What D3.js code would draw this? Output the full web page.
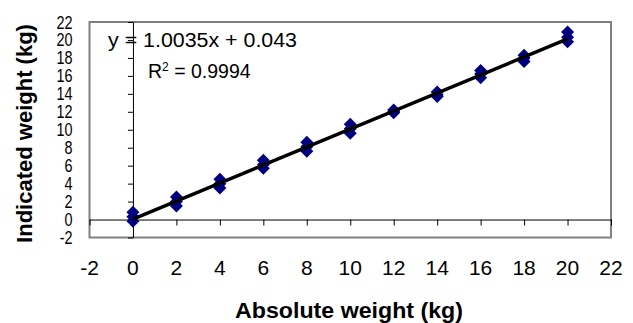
<!DOCTYPE html>
<html>
<head>
<meta charset="utf-8">
<script src="https://cdn.jsdelivr.net/npm/d3@7"></script>
<style>
  body { margin: 0; background: #fff; }
  text { font-family: Arial, "Liberation Sans", sans-serif; }
</style>
</head>
<body>
<div id="chart"></div>
<script>
// readings: absolute weight vs indicated weight (three readings per load)
const absolute = [0, 0, 0, 2, 2, 2, 4, 4, 4, 6, 6, 6, 8, 8, 8, 10, 10, 10,
                  12, 12, 12, 14, 14, 14, 16, 16, 16, 18, 18, 18, 20, 20, 20];
const indicated = [-0.2, 0.3, 0.8, 1.5, 2.0, 2.5, 3.5, 4.0, 4.5, 5.7, 6.1, 6.6,
                   7.6, 8.1, 8.6, 9.6, 10.1, 10.6, 11.9, 12.0, 12.2, 13.7, 13.9, 14.2,
                   15.8, 16.2, 16.6, 17.6, 18.0, 18.3, 19.8, 20.3, 20.9];
const tickValues = [-2, 0, 2, 4, 6, 8, 10, 12, 14, 16, 18, 20, 22];
const slope = 1.0035, intercept = 0.043;
const fitRange = [0, 20];

const W = 633, H = 323;
const plot = {left: 89.5, right: 611, top: 22, bottom: 237.5};

const x = d3.scaleLinear().domain([-2, 22]).range([plot.left, plot.right]);
const y = d3.scaleLinear().domain([-2, 22]).range([plot.bottom, plot.top]);

const svg = d3.select("#chart").append("svg")
    .attr("width", W)
    .attr("height", H);

// plot frame
svg.append("rect")
    .attr("x", plot.left)
    .attr("y", plot.top)
    .attr("width", plot.right - plot.left)
    .attr("height", plot.bottom - plot.top)
    .attr("fill", "#fff")
    .attr("stroke", "#808080")
    .attr("stroke-width", 2);

// x axis through y=0, ticks only
const xAxis = svg.append("g")
    .attr("transform", "translate(0," + y(0) + ")")
    .call(d3.axisBottom(x).tickValues(tickValues).tickSize(6).tickSizeOuter(0).tickFormat(""));

// y axis through x=0, ticks only
const yAxis = svg.append("g")
    .attr("transform", "translate(" + x(0) + ",0)")
    .call(d3.axisLeft(y).tickValues(tickValues).tickSize(5).tickSizeOuter(0).tickFormat(""));

// x tick labels, low position
svg.append("g").selectAll("text")
    .data(tickValues)
    .enter().append("text")
    .attr("x", d => x(d))
    .attr("y", 274.5)
    .attr("text-anchor", "middle")
    .attr("font-size", 21)
    .text(d => d);

// y tick labels, low position (narrow look of the original)
svg.append("g").selectAll("text")
    .data(tickValues)
    .enter().append("text")
    .attr("transform", d => "translate(72.5," + (y(d) + 6.5) + ") scale(0.8,1)")
    .attr("text-anchor", "end")
    .attr("font-size", 18)
    .text(d => d);

// markers
const diamond = "M0,-6.5L6.5,0L0,6.5L-6.5,0Z";
svg.append("g").selectAll("path")
    .data(absolute.map((a, i) => [a, indicated[i]]))
    .enter().append("path")
    .attr("d", diamond)
    .attr("transform", d => "translate(" + x(d[0]) + "," + y(d[1]) + ")")
    .attr("fill", "#000080");

// trend line
svg.append("line")
    .attr("x1", x(fitRange[0]))
    .attr("y1", y(slope * fitRange[0] + intercept))
    .attr("x2", x(fitRange[1]))
    .attr("y2", y(slope * fitRange[1] + intercept))
    .attr("stroke", "#000")
    .attr("stroke-width", 3.5);

// equation labels
svg.append("text")
    .attr("x", 108)
    .attr("y", 47)
    .attr("font-size", 19.5)
    .attr("textLength", 189)
    .attr("lengthAdjust", "spacingAndGlyphs")
    .text("y = 1.0035x + 0.043");

const r2 = svg.append("text")
    .attr("x", 148)
    .attr("y", 78)
    .attr("font-size", 19.5);
r2.append("tspan").text("R");
r2.append("tspan").attr("font-size", 12).attr("dy", -7).text("2");
r2.append("tspan").attr("dy", 7).text(" = 0.9994");

// axis titles
svg.append("text")
    .attr("x", 349)
    .attr("y", 318)
    .attr("text-anchor", "middle")
    .attr("font-size", 22)
    .attr("font-weight", "bold")
    .attr("textLength", 228)
    .attr("lengthAdjust", "spacingAndGlyphs")
    .text("Absolute weight (kg)");

svg.append("text")
    .attr("transform", "translate(31.5,133.5) rotate(-90)")
    .attr("text-anchor", "middle")
    .attr("font-size", 22)
    .attr("font-weight", "bold")
    .text("Indicated weight (kg)");
</script>
</body>
</html>
